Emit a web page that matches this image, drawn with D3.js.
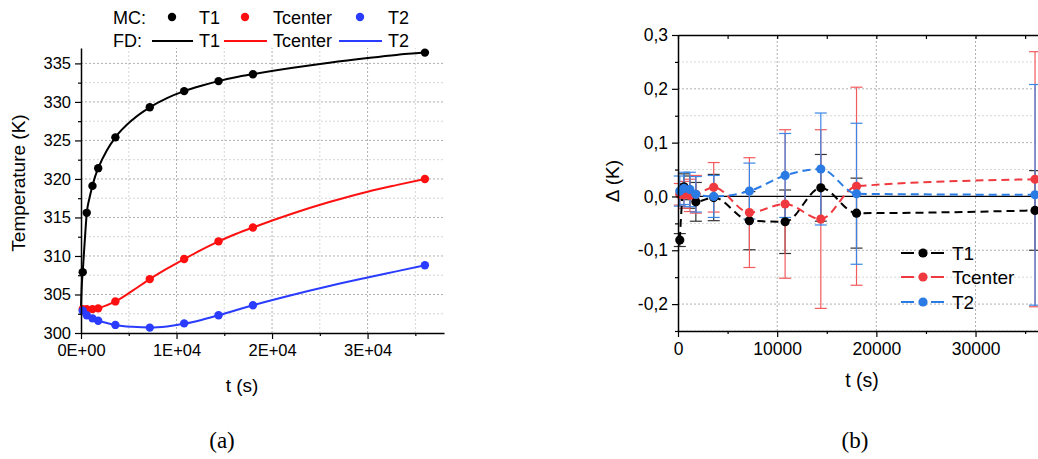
<!DOCTYPE html>
<html><head><meta charset="utf-8">
<script src="https://cdn.jsdelivr.net/npm/d3@7/dist/d3.min.js"></script>
<style>
html,body{margin:0;padding:0;background:#fff;}
svg{display:block;font-family:"Liberation Sans",Arial,sans-serif;}
</style></head>
<body>
<svg id="chart" width="1038" height="459"></svg>
<script>
// ---------- DATA ----------
// Panel (a): Monte Carlo points
const mcTime = [180, 600, 1200, 1800, 3600, 7200, 10800, 14400, 18000, 36000];
const mcT1 = [307.9, 315.6, 319.1, 321.4, 325.4, 329.3, 331.4, 332.7, 333.6, 336.4];
const mcTcenter = [303.1, 303.08, 303.1, 303.2, 304.1, 307.0, 309.6, 311.9, 313.7, 320.0];
const mcT2 = [302.9, 302.3, 301.9, 301.6, 301.05, 300.7, 301.25, 302.3, 303.6, 308.8];
// Panel (a): finite-difference curves
const fdTime = [0, 30, 90, 180, 300, 450, 600, 900, 1200, 1500, 1800, 2700, 3600, 5400, 7200, 9000, 10800, 12600, 14400, 16200, 18000, 22000, 26000, 30000, 33000, 36000];
const fdT1 = [303.2, 304.6, 306.4, 307.9, 310.2, 313.0, 315.5, 317.6, 319.1, 320.4, 321.4, 323.7, 325.4, 327.7, 329.3, 330.5, 331.4, 332.1, 332.7, 333.2, 333.6, 334.4, 335.1, 335.7, 336.1, 336.4];
const fdTcenter = [303.1, 303.1, 303.08, 303.07, 303.06, 303.06, 303.06, 303.07, 303.1, 303.15, 303.22, 303.6, 304.1, 305.5, 307.0, 308.35, 309.6, 310.8, 311.9, 312.85, 313.7, 315.45, 317.0, 318.35, 319.2, 320.0];
const fdT2 = [303.5, 303.3, 303.1, 302.9, 302.7, 302.5, 302.3, 302.05, 301.9, 301.72, 301.6, 301.3, 301.05, 300.8, 300.7, 300.85, 301.2, 301.7, 302.3, 302.95, 303.6, 304.9, 306.1, 307.2, 308.0, 308.8];
// Panel (b): deviations with error bars
const dTime = [180, 600, 1200, 1800, 3600, 7200, 10800, 14400, 18000, 36000];
const dT1 = [-0.081, 0.018, 0.008, -0.01, -0.002, -0.045, -0.047, 0.016, -0.031, -0.026];
const eT1 = [0.012, 0.024, 0.03, 0.036, 0.043, 0.054, 0.059, 0.062, 0.065, 0.074];
const dTcenter = [0.004, 0.003, 0.002, 0.004, 0.017, -0.03, -0.014, -0.042, 0.019, 0.032];
const eTcenter = [0.02, 0.025, 0.03, 0.035, 0.046, 0.102, 0.138, 0.166, 0.184, 0.237];
const dT2 = [0.01, 0.015, 0.013, 0.004, 0.0, 0.01, 0.039, 0.051, 0.005, 0.003];
const eT2 = [0.028, 0.03, 0.032, 0.033, 0.039, 0.052, 0.078, 0.104, 0.131, 0.205];
// Tick values
const aXTicks = [0, 10000, 20000, 30000];
const aYTicks = [300, 305, 310, 315, 320, 325, 330, 335];
const bXTicks = [0, 10000, 20000, 30000];
const bYTicks = [-0.2, -0.1, 0.0, 0.1, 0.2, 0.3];

const svg = d3.select("#chart");
const SANS = "'Liberation Sans', Arial, sans-serif";
const SERIF = "'Liberation Serif', 'Times New Roman', serif";

// ---------- PANEL A ----------
const ax = d3.scaleLinear().domain([0, 38000]).range([81, 444]);
const ay = d3.scaleLinear().domain([300, 337]).range([333, 48]);
const gA = svg.append("g");

const aXMinor = d3.range(5000, 38001, 10000);
const aYMinor = d3.range(302.5, 337, 5);
gA.selectAll(".gxm").data(aXMinor).join("line")
  .attr("x1", d => ax(d)).attr("x2", d => ax(d)).attr("y1", ay(300)).attr("y2", ay(337))
  .attr("stroke", "#d6d6d6").attr("stroke-dasharray", "2,2");
gA.selectAll(".gym").data(aYMinor).join("line")
  .attr("y1", d => ay(d)).attr("y2", d => ay(d)).attr("x1", ax(0)).attr("x2", ax(38000))
  .attr("stroke", "#d6d6d6").attr("stroke-dasharray", "2,2");
gA.selectAll(".gx").data(aXTicks.filter(d => d > 0)).join("line")
  .attr("x1", d => ax(d)).attr("x2", d => ax(d)).attr("y1", ay(300)).attr("y2", ay(337))
  .attr("stroke", "#b0b0b0").attr("stroke-dasharray", "2,2");
gA.selectAll(".gy").data(aYTicks.filter(d => d > 300)).join("line")
  .attr("y1", d => ay(d)).attr("y2", d => ay(d)).attr("x1", ax(0)).attr("x2", ax(38000))
  .attr("stroke", "#b0b0b0").attr("stroke-dasharray", "2,2");

const lineA = (ys) => d3.line().x((d, i) => ax(fdTime[i])).y((d, i) => ay(ys[i])).curve(d3.curveMonotoneX)(ys);
const colA = {T1: "#000000", Tcenter: "#ff1010", T2: "#2a3cff"};
[[fdT1, colA.T1], [fdTcenter, colA.Tcenter], [fdT2, colA.T2]].forEach(([ys, c]) => {
  gA.append("path").attr("d", lineA(ys)).attr("fill", "none").attr("stroke", c).attr("stroke-width", 2);
});
[[mcTcenter, colA.Tcenter], [mcT2, colA.T2], [mcT1, colA.T1]].forEach(([ys, c]) => {
  gA.append("g").selectAll("circle").data(ys).join("circle")
    .attr("cx", (d, i) => ax(mcTime[i])).attr("cy", d => ay(d)).attr("r", 4.2).attr("fill", c);
});

const fmtA = d => d === 0 ? "0E+00" : (d / 10000) + "E+04";
gA.append("g").attr("transform", `translate(0,${ay(300)})`)
  .call(d3.axisBottom(ax).tickValues(aXTicks).tickFormat(fmtA).tickSize(6).tickPadding(5).tickSizeOuter(0));
gA.append("g").attr("transform", `translate(0,${ay(300)})`)
  .call(d3.axisBottom(ax).tickValues(aXMinor).tickFormat("").tickSize(3).tickSizeOuter(0))
  .select(".domain").remove();
gA.append("g").attr("transform", `translate(${ax(0)},0)`)
  .call(d3.axisLeft(ay).tickValues(aYTicks).tickSize(6).tickPadding(4).tickSizeOuter(0));
gA.append("g").attr("transform", `translate(${ax(0)},0)`)
  .call(d3.axisLeft(ay).tickValues(aYMinor).tickFormat("").tickSize(3).tickSizeOuter(0))
  .select(".domain").remove();

// ---------- PANEL B ----------
const bx = d3.scaleLinear().domain([0, 36500]).range([678, 1040]);
const by = d3.scaleLinear().domain([-0.25, 0.3]).range([331, 35]);
const gB = svg.append("g");
const bYMinor = [-0.25, -0.15, -0.05, 0.05, 0.15, 0.25];
const bXMinor = [5000, 15000, 25000, 35000];
gB.selectAll(".gym").data(bYMinor).join("line")
  .attr("y1", d => by(d)).attr("y2", d => by(d)).attr("x1", bx(0)).attr("x2", bx(36500))
  .attr("stroke", "#d6d6d6").attr("stroke-dasharray", "2,2");
gB.selectAll(".gy").data(bYTicks.filter(d => d !== 0 && d < 0.3)).join("line")
  .attr("y1", d => by(d)).attr("y2", d => by(d)).attr("x1", bx(0)).attr("x2", bx(36500))
  .attr("stroke", "#b0b0b0").attr("stroke-dasharray", "2,2");
gB.selectAll(".gx").data(bXTicks.filter(d => d > 0)).join("line")
  .attr("x1", d => bx(d)).attr("x2", d => bx(d)).attr("y1", by(-0.25)).attr("y2", by(0.3))
  .attr("stroke", "#b0b0b0").attr("stroke-dasharray", "2,2");
gB.append("line").attr("x1", bx(0)).attr("x2", bx(36500)).attr("y1", by(0)).attr("y2", by(0))
  .attr("stroke", "#000").attr("stroke-width", 1.3);

const colB = {T1: "#000000", Tcenter: "#f0393f", T2: "#2a7be3"};
const errCol = {T1: "#333333", Tcenter: "#f25a5e", T2: "#3a86e6"};
const seriesB = [
  {k: "T1", d: dT1, e: eT1},
  {k: "Tcenter", d: dTcenter, e: eTcenter},
  {k: "T2", d: dT2, e: eT2}
];
seriesB.forEach(s => {
  const g = gB.append("g").attr("stroke", errCol[s.k]).attr("stroke-width", 1.2);
  s.d.forEach((v, i) => {
    const x = bx(dTime[i]);
    const y1 = by(v + s.e[i]), y2 = by(v - s.e[i]);
    g.append("line").attr("x1", x).attr("x2", x).attr("y1", y1).attr("y2", y2);
    g.append("line").attr("x1", x - 6).attr("x2", x + 6).attr("y1", y1).attr("y2", y1);
    g.append("line").attr("x1", x - 6).attr("x2", x + 6).attr("y1", y2).attr("y2", y2);
  });
});
const lineB = (ys) => d3.line().x((d, i) => bx(dTime[i])).y(d => by(d)).curve(d3.curveMonotoneX)(ys);
seriesB.forEach(s => {
  gB.append("path").attr("d", lineB(s.d)).attr("fill", "none").attr("stroke", colB[s.k])
    .attr("stroke-width", 2).attr("stroke-dasharray", "8,5");
});
seriesB.forEach(s => {
  gB.append("g").selectAll("circle").data(s.d).join("circle")
    .attr("cx", (d, i) => bx(dTime[i])).attr("cy", d => by(d)).attr("r", 4.6).attr("fill", colB[s.k]);
});

const fmtB = d => d3.format(".1f")(d).replace(".", ",").replace("\u2212", "-");
gB.append("g").attr("transform", `translate(0,${by(-0.25)})`)
  .call(d3.axisBottom(bx).tickValues(bXTicks).tickFormat(d3.format("d")).tickSize(6).tickPadding(6).tickSizeOuter(0));
gB.append("g").attr("transform", `translate(0,${by(-0.25)})`)
  .call(d3.axisBottom(bx).tickValues(bXMinor).tickFormat("").tickSize(3).tickSizeOuter(0))
  .select(".domain").remove();
gB.append("g").attr("transform", `translate(0,${by(0.3)})`)
  .call(d3.axisTop(bx).tickValues(bXTicks.concat(bXMinor)).tickFormat("").tickSize(-4).tickSizeOuter(0));
gB.append("g").attr("transform", `translate(${bx(0)},0)`)
  .call(d3.axisLeft(by).tickValues(bYTicks).tickFormat(fmtB).tickSize(6).tickPadding(4).tickSizeOuter(0));
gB.append("g").attr("transform", `translate(${bx(0)},0)`)
  .call(d3.axisLeft(by).tickValues(bYMinor).tickFormat("").tickSize(3).tickSizeOuter(0))
  .select(".domain").remove();

svg.selectAll(".domain").attr("stroke", "#000").attr("stroke-width", 1.5);
svg.selectAll(".tick line").attr("stroke", "#000").attr("stroke-width", 1.2);
gA.selectAll(".tick text").style("font-size", "16.5px").style("font-family", SANS).attr("fill", "#000");
gB.selectAll(".tick text").style("font-size", "17.5px").style("font-family", SANS).attr("fill", "#000");

// ---------- TITLES ----------
const title = (x, y, rot, size, txt, fam) => svg.append("text")
  .attr("transform", `translate(${x},${y}) rotate(${rot})`).attr("text-anchor", "middle")
  .attr("dominant-baseline", "central").style("font-size", size).style("font-family", fam).text(txt);
title(18, 183, -90, "19px", "Temperature (K)", SANS);
title(242, 385, 0, "19px", "t (s)", SANS);
title(612, 181, -90, "19px", "\u0394 (K)", SANS);
title(862, 380, 0, "19.5px", "t (s)", SANS);
title(222, 440, 0, "23px", "(a)", SERIF);
title(855, 440, 0, "23px", "(b)", SERIF);

// ---------- LEGEND A ----------
const legA = svg.append("g").style("font-size", "18px").style("font-family", SANS);
const legKeys = ["T1", "Tcenter", "T2"];
const legMarkX = [172, 245, 360];
const legTextX = [199, 273, 388];
const legLineX = [[152, 193], [224, 267], [339, 382]];
legA.append("text").attr("x", 113).attr("y", 24).text("MC:");
legA.append("text").attr("x", 113).attr("y", 47).text("FD:");
legKeys.forEach((k, i) => {
  legA.append("circle").attr("cx", legMarkX[i]).attr("cy", 17).attr("r", 4.2).attr("fill", colA[k]);
  legA.append("text").attr("x", legTextX[i]).attr("y", 24).text(k);
  legA.append("line").attr("x1", legLineX[i][0]).attr("x2", legLineX[i][1]).attr("y1", 41).attr("y2", 41)
    .attr("stroke", colA[k]).attr("stroke-width", 2);
  legA.append("text").attr("x", legTextX[i]).attr("y", 47).text(k);
});

// ---------- LEGEND B ----------
const legB = svg.append("g").style("font-size", "19px").style("font-family", SANS);
const legBY = [253, 277, 302];
legKeys.forEach((k, i) => {
  [[901, 914], [931, 944]].forEach(([a, b]) => {
    legB.append("line").attr("x1", a).attr("x2", b).attr("y1", legBY[i]).attr("y2", legBY[i])
      .attr("stroke", colB[k]).attr("stroke-width", 2);
  });
  legB.append("circle").attr("cx", 923).attr("cy", legBY[i]).attr("r", 4.6).attr("fill", colB[k]);
  legB.append("text").attr("x", 952).attr("y", legBY[i]).attr("dominant-baseline", "central").text(k);
});
</script>
</body></html>
